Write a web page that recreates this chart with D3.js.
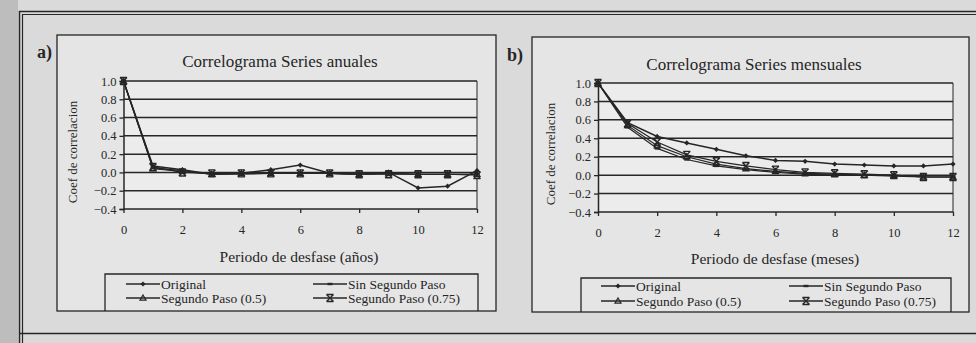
<!DOCTYPE html>
<html>
<head>
<meta charset="utf-8">
<script src="https://cdn.jsdelivr.net/npm/d3@7"></script>
<style>
  html, body { margin: 0; padding: 0; background: #d4d4d4; }
  svg { display: block; }
  svg text { font-family: "Liberation Serif", "DejaVu Serif", serif; }
</style>
</head>
<body>
<svg id="chart" width="976" height="343"></svg>
<script>
// lags 0..12
const lags = [0, 1, 2, 3, 4, 5, 6, 7, 8, 9, 10, 11, 12];
const seriesNames = ['Original', 'Sin Segundo Paso', 'Segundo Paso (0.5)', 'Segundo Paso (0.75)'];
const yTicks = [-0.4, -0.2, 0.0, 0.2, 0.4, 0.6, 0.8, 1.0];
const xTicks = [0, 2, 4, 6, 8, 10, 12];

// a) series anuales
const anualOriginal = [1.0, 0.07, 0.03, -0.02, -0.01, 0.03, 0.08, -0.01, -0.02, 0.0, -0.17, -0.15, 0.02];
const anualSinPaso  = [1.0, 0.05, 0.02, -0.02, -0.02, -0.01, -0.01, -0.01, -0.02, -0.01, -0.02, -0.02, -0.02];
const anualPaso05   = [1.0, 0.04, 0.01, -0.02, -0.01, -0.01, -0.01, -0.01, -0.02, -0.01, -0.02, -0.02, -0.02];
const anualPaso075  = [1.0, 0.06, 0.0, -0.01, -0.01, -0.01, -0.01, -0.01, -0.02, -0.02, -0.02, -0.02, -0.03];

// b) series mensuales
const mensOriginal = [1.0, 0.57, 0.42, 0.35, 0.28, 0.21, 0.16, 0.15, 0.12, 0.11, 0.10, 0.10, 0.12];
const mensSinPaso  = [1.0, 0.52, 0.29, 0.17, 0.10, 0.06, 0.03, 0.01, 0.00, 0.00, -0.01, -0.02, -0.02];
const mensPaso05   = [1.0, 0.54, 0.32, 0.20, 0.12, 0.07, 0.04, 0.02, 0.01, 0.00, 0.00, -0.02, -0.02];
const mensPaso075  = [1.0, 0.56, 0.36, 0.22, 0.15, 0.10, 0.06, 0.03, 0.02, 0.01, 0.00, -0.02, -0.02];

const ink = '#262626';
const serif = '"Liberation Serif", "DejaVu Serif", serif';
const svg = d3.select('#chart');

// scanned page look
svg.append('rect').attr('x', 0).attr('y', 0).attr('width', 976).attr('height', 343).attr('fill', '#dadada');
svg.append('rect').attr('x', 0).attr('y', 0).attr('width', 18).attr('height', 343).attr('fill', '#bdbdbd');

// outer double frame
const frame = svg.append('g').attr('fill', 'none').attr('stroke', ink);
frame.append('path').attr('d', 'M19.5,343 V11.5 H976').attr('stroke-width', 1.5);
frame.append('path').attr('d', 'M22.5,343 V14.5 H976').attr('stroke-width', 1.2);
frame.append('line').attr('x1', 19).attr('x2', 976).attr('y1', 333.5).attr('y2', 333.5).attr('stroke-width', 1.5);

function marker(g, kind, x, y) {
  if (kind === 0) {
    g.append('path').attr('d', `M${x},${y - 2.6} L${x + 2.6},${y} L${x},${y + 2.6} L${x - 2.6},${y} Z`).attr('fill', ink);
  } else if (kind === 1) {
    g.append('rect').attr('x', x - 2.5).attr('y', y - 1.2).attr('width', 5).attr('height', 2.4).attr('fill', ink);
  } else if (kind === 2) {
    g.append('path').attr('d', `M${x},${y - 3} L${x + 3},${y + 2.2} L${x - 3},${y + 2.2} Z`)
      .attr('fill', 'none').attr('stroke', ink).attr('stroke-width', 1.2);
  } else {
    g.append('path').attr('d', `M${x - 3.5},${y - 3.5} L${x + 3.5},${y + 3.5} M${x - 3.5},${y + 3.5} L${x + 3.5},${y - 3.5} M${x - 3.5},${y - 3.5} H${x + 3.5} M${x - 3.5},${y + 3.5} H${x + 3.5}`)
      .attr('fill', 'none').attr('stroke', ink).attr('stroke-width', 1.4);
  }
}

function drawPanel(p) {
  const g = svg.append('g');

  // chart box
  g.append('rect').attr('x', p.box[0]).attr('y', p.box[1]).attr('width', p.box[2] - p.box[0]).attr('height', p.box[3] - p.box[1])
    .attr('fill', '#e5e5e5').attr('stroke', ink).attr('stroke-width', 1.3);

  g.append('text').attr('x', p.letter[0]).attr('y', p.letter[1]).attr('font-size', 18).attr('font-weight', 'bold')
    .attr('fill', ink).text(p.label);

  const x = d3.scaleLinear().domain([0, 12]).range([p.plot[0], p.plot[1]]);
  const y = d3.scaleLinear().domain([-0.4, 1.0]).range([p.plot[3], p.plot[2]]);

  // plot area
  g.append('rect').attr('x', x(0)).attr('y', y(1)).attr('width', x(12) - x(0)).attr('height', y(-0.4) - y(1))
    .attr('fill', '#ececec');

  // gridlines
  g.append('g').selectAll('line').data(yTicks).join('line')
    .attr('x1', x(0)).attr('x2', x(12)).attr('y1', d => y(d)).attr('y2', d => y(d))
    .attr('stroke', ink).attr('stroke-width', 1.5);
  g.append('line').attr('x1', x(12)).attr('x2', x(12)).attr('y1', y(1)).attr('y2', y(-0.4))
    .attr('stroke', ink).attr('stroke-width', 1);

  // y axis
  const yAxis = g.append('g').attr('transform', `translate(${x(0)},0)`)
    .call(d3.axisLeft(y).tickValues(yTicks).tickFormat(d3.format('.1f')).tickSize(4).tickPadding(3));
  yAxis.attr('font-family', null);
  yAxis.select('.domain').attr('stroke', ink).attr('stroke-width', 1.5);
  yAxis.selectAll('.tick line').attr('stroke', ink).attr('stroke-width', 1.3);
  yAxis.selectAll('.tick text').attr('font-size', 12.5).attr('fill', ink).style('font-family', serif);

  // x axis (ticks only on even lags)
  const xAxis = g.append('g').attr('transform', `translate(0,${y(-0.4)})`)
    .call(d3.axisBottom(x).tickValues(xTicks).tickFormat(d3.format('d')).tickSize(4).tickPadding(12));
  xAxis.attr('font-family', null);
  xAxis.select('.domain').remove();
  xAxis.selectAll('.tick line').attr('stroke', ink).attr('stroke-width', 1.3);
  xAxis.selectAll('.tick text').attr('font-size', 12.5).attr('fill', ink).style('font-family', serif);

  // titles
  g.append('text').attr('x', p.title[0]).attr('y', p.title[1]).attr('text-anchor', 'middle')
    .attr('font-size', 17).attr('fill', ink).text(p.titleText);
  g.append('text').attr('x', p.xTitle[0]).attr('y', p.xTitle[1]).attr('text-anchor', 'middle')
    .attr('font-size', 15.5).attr('fill', ink).text(p.xTitleText);
  g.append('text').attr('transform', `translate(${p.yTitle[0]},${p.yTitle[1]}) rotate(-90)`)
    .attr('text-anchor', 'middle').attr('font-size', 13).attr('fill', ink).text('Coef de correlacion');

  // series
  const line = d3.line().x((d, i) => x(lags[i])).y(d => y(d));
  p.series.forEach((vals, k) => {
    g.append('path').datum(vals).attr('d', line).attr('fill', 'none')
      .attr('stroke', ink).attr('stroke-width', k === 0 ? 1.5 : 1.2);
  });
  p.series.forEach((vals, k) => {
    const mg = g.append('g');
    vals.forEach((v, i) => marker(mg, k, x(lags[i]), y(v)));
  });

  // legend
  const lb = p.legendBox;
  g.append('path').attr('d', `M${lb[0]},${lb[3]} V${lb[1]} H${lb[2]} V${lb[3]}`)
    .attr('fill', 'none').attr('stroke', ink).attr('stroke-width', 1.3);
  seriesNames.forEach((name, k) => {
    const col = k % 2, row = Math.floor(k / 2);
    const lx = p.legendCols[col], ly = p.legendRows[row];
    g.append('line').attr('x1', lx).attr('x2', lx + 34).attr('y1', ly).attr('y2', ly)
      .attr('stroke', ink).attr('stroke-width', 1.3);
    marker(g, k, lx + 17, ly);
    g.append('text').attr('x', lx + 35).attr('y', ly + 4.5).attr('font-size', 13.5).attr('fill', ink).text(name);
  });
}

drawPanel({
  label: 'a)', letter: [37, 58],
  box: [57, 35, 496, 311],
  plot: [123.5, 477, 81, 209],
  title: [280, 67], titleText: 'Correlograma Series anuales',
  xTitle: [299, 262], xTitleText: 'Periodo de desfase (años)',
  yTitle: [77, 152],
  series: [anualOriginal, anualSinPaso, anualPaso05, anualPaso075],
  legendBox: [105, 274, 478, 311],
  legendCols: [126, 313], legendRows: [284, 298]
});

drawPanel({
  label: 'b)', letter: [507, 61],
  box: [532, 37, 969, 312],
  plot: [598, 953, 83, 212],
  title: [754, 70], titleText: 'Correlograma Series mensuales',
  xTitle: [775, 264], xTitleText: 'Periodo de desfase (meses)',
  yTitle: [555, 154],
  series: [mensOriginal, mensSinPaso, mensPaso05, mensPaso075],
  legendBox: [581, 278, 951, 312],
  legendCols: [601, 789], legendRows: [286, 301]
});
</script>
</body>
</html>
